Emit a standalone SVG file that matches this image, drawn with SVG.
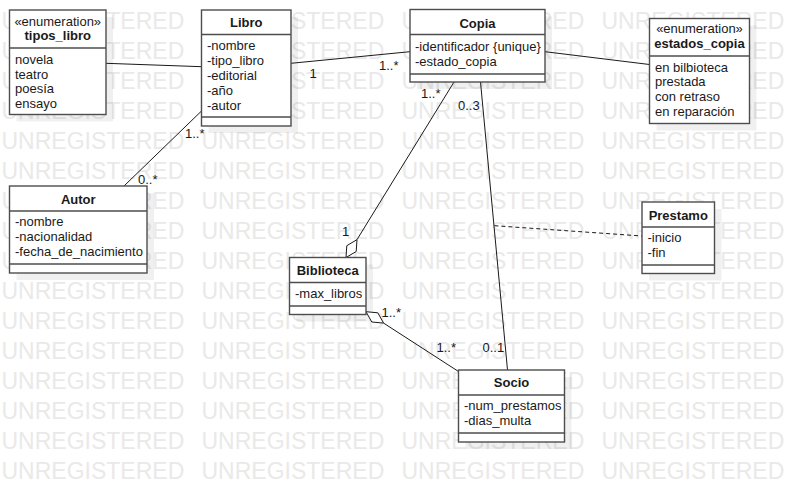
<svg xmlns="http://www.w3.org/2000/svg" width="789" height="482" viewBox="0 0 789 482">
<style>
  .wm { font-family: "Liberation Sans", Arial, sans-serif; font-size: 23px; fill: #e9e9e9; }
  .shadow { fill: #000; fill-opacity: 0.06; }
  .box { fill: #fff; stroke: #4d4d4d; stroke-width: 1.4; }
  .div { stroke: #4d4d4d; stroke-width: 1.4; }
  .t { font-family: "Liberation Sans", Arial, sans-serif; font-size: 13px; fill: #1a1a1a; }
  .name { font-weight: bold; text-anchor: middle; }
  .st { text-anchor: middle; }
  .ln { fill: none; stroke: #1a1a1a; stroke-width: 1; }
  .dash { stroke-dasharray: 4 3; }
  .dia { fill: #fff; stroke: #1a1a1a; stroke-width: 1; }
</style>
<rect width="789" height="482" fill="#fff"/>
<g id="watermark" class="wm">
  <text x="1.5" y="29">UNREGISTERED</text><text x="201.5" y="29">UNREGISTERED</text><text x="401.5" y="29">UNREGISTERED</text><text x="601.5" y="29">UNREGISTERED</text>
  <text x="1.5" y="59">UNREGISTERED</text><text x="201.5" y="59">UNREGISTERED</text><text x="401.5" y="59">UNREGISTERED</text><text x="601.5" y="59">UNREGISTERED</text>
  <text x="1.5" y="89">UNREGISTERED</text><text x="201.5" y="89">UNREGISTERED</text><text x="401.5" y="89">UNREGISTERED</text><text x="601.5" y="89">UNREGISTERED</text>
  <text x="1.5" y="119">UNREGISTERED</text><text x="201.5" y="119">UNREGISTERED</text><text x="401.5" y="119">UNREGISTERED</text><text x="601.5" y="119">UNREGISTERED</text>
  <text x="1.5" y="149">UNREGISTERED</text><text x="201.5" y="149">UNREGISTERED</text><text x="401.5" y="149">UNREGISTERED</text><text x="601.5" y="149">UNREGISTERED</text>
  <text x="1.5" y="179">UNREGISTERED</text><text x="201.5" y="179">UNREGISTERED</text><text x="401.5" y="179">UNREGISTERED</text><text x="601.5" y="179">UNREGISTERED</text>
  <text x="1.5" y="209">UNREGISTERED</text><text x="201.5" y="209">UNREGISTERED</text><text x="401.5" y="209">UNREGISTERED</text><text x="601.5" y="209">UNREGISTERED</text>
  <text x="1.5" y="239">UNREGISTERED</text><text x="201.5" y="239">UNREGISTERED</text><text x="401.5" y="239">UNREGISTERED</text><text x="601.5" y="239">UNREGISTERED</text>
  <text x="1.5" y="269">UNREGISTERED</text><text x="201.5" y="269">UNREGISTERED</text><text x="401.5" y="269">UNREGISTERED</text><text x="601.5" y="269">UNREGISTERED</text>
  <text x="1.5" y="299">UNREGISTERED</text><text x="201.5" y="299">UNREGISTERED</text><text x="401.5" y="299">UNREGISTERED</text><text x="601.5" y="299">UNREGISTERED</text>
  <text x="1.5" y="329">UNREGISTERED</text><text x="201.5" y="329">UNREGISTERED</text><text x="401.5" y="329">UNREGISTERED</text><text x="601.5" y="329">UNREGISTERED</text>
  <text x="1.5" y="359">UNREGISTERED</text><text x="201.5" y="359">UNREGISTERED</text><text x="401.5" y="359">UNREGISTERED</text><text x="601.5" y="359">UNREGISTERED</text>
  <text x="1.5" y="389">UNREGISTERED</text><text x="201.5" y="389">UNREGISTERED</text><text x="401.5" y="389">UNREGISTERED</text><text x="601.5" y="389">UNREGISTERED</text>
  <text x="1.5" y="419">UNREGISTERED</text><text x="201.5" y="419">UNREGISTERED</text><text x="401.5" y="419">UNREGISTERED</text><text x="601.5" y="419">UNREGISTERED</text>
  <text x="1.5" y="449">UNREGISTERED</text><text x="201.5" y="449">UNREGISTERED</text><text x="401.5" y="449">UNREGISTERED</text><text x="601.5" y="449">UNREGISTERED</text>
  <text x="1.5" y="479">UNREGISTERED</text><text x="201.5" y="479">UNREGISTERED</text><text x="401.5" y="479">UNREGISTERED</text><text x="601.5" y="479">UNREGISTERED</text>
</g>
<g id="shadows">
  <rect class="shadow" x="16.5" y="17" width="96.5" height="104.5"/>
  <rect class="shadow" x="208.5" y="17" width="89.5" height="116"/>
  <rect class="shadow" x="417" y="16.5" width="135" height="72.5"/>
  <rect class="shadow" x="656.5" y="25.5" width="100" height="105"/>
  <rect class="shadow" x="16.5" y="193" width="137.5" height="87"/>
  <rect class="shadow" x="296.5" y="264.5" width="76.5" height="57"/>
  <rect class="shadow" x="465.5" y="377" width="106" height="72"/>
  <rect class="shadow" x="649" y="209" width="72.5" height="71.5"/>
</g>
<g id="connectors">
  <line class="ln" x1="106" y1="63.3" x2="201.5" y2="66.7"/>
  <line class="ln" x1="291" y1="63.3" x2="410" y2="51.7"/>
  <line class="ln" x1="545" y1="51.7" x2="649.5" y2="64.5"/>
  <line class="ln" x1="201.5" y1="111" x2="124" y2="186"/>
  <line class="ln" x1="454" y1="82" x2="357" y2="239.6"/>
  <polygon class="dia" points="346,257.5 356.2,251.5 357,239.6 346.8,245.7"/>
  <line class="ln" x1="480.5" y1="82" x2="507.5" y2="370"/>
  <line class="ln dash" x1="494.4" y1="225.7" x2="642" y2="236"/>
  <line class="ln" x1="383.6" y1="323.1" x2="458.5" y2="371.5"/>
  <polygon class="dia" points="366,311.7 377.8,312.8 383.6,323.1 371.8,322"/>
  <g class="t">
    <text x="309.5" y="78">1</text>
    <text x="379" y="70">1..*</text>
    <text x="185" y="138">1..*</text>
    <text x="138" y="184">0..*</text>
    <text x="421" y="98">1..*</text>
    <text x="342" y="236">1</text>
    <text x="458" y="110">0..3</text>
    <text x="482.5" y="352">0..1</text>
    <text x="381.5" y="316.5">1..*</text>
    <text x="436.5" y="352">1..*</text>
  </g>
</g>
<g id="tipos_libro" class="t">
  <rect class="box" x="9.5" y="10" width="96.5" height="104.5"/>
  <line class="div" x1="9.5" y1="48" x2="106" y2="48"/>
  <text class="st" x="57.75" y="26">«enumeration»</text>
  <text class="name" x="57.75" y="39.5">tipos_libro</text>
  <text x="15" y="63.5">novela</text>
  <text x="15" y="78.5">teatro</text>
  <text x="15" y="93.3">poesía</text>
  <text x="15" y="108">ensayo</text>
</g>
<g id="Libro" class="t">
  <rect class="box" x="201.5" y="10" width="89.5" height="116"/>
  <line class="div" x1="201.5" y1="34.5" x2="291" y2="34.5"/>
  <line class="div" x1="201.5" y1="117" x2="291" y2="117"/>
  <text class="name" x="246.25" y="27.4">Libro</text>
  <text x="207" y="50">-nombre</text>
  <text x="207" y="65">-tipo_libro</text>
  <text x="207" y="80">-editorial</text>
  <text x="207" y="95">-año</text>
  <text x="207" y="110">-autor</text>
</g>
<g id="Copia" class="t">
  <rect class="box" x="410" y="9.5" width="135" height="72.5"/>
  <line class="div" x1="410" y1="34.5" x2="545" y2="34.5"/>
  <line class="div" x1="410" y1="74" x2="545" y2="74"/>
  <text class="name" x="477.5" y="27.5">Copia</text>
  <text x="415" y="51">-identificador {unique}</text>
  <text x="415" y="66">-estado_copia</text>
</g>
<g id="estados_copia" class="t">
  <rect class="box" x="649.5" y="18.5" width="100" height="105"/>
  <line class="div" x1="649.5" y1="56" x2="749.5" y2="56"/>
  <text class="st" x="699.5" y="33">«enumeration»</text>
  <text class="name" x="699.5" y="47.5">estados_copia</text>
  <text x="655" y="71.5">en bilbioteca</text>
  <text x="655" y="86.3">prestada</text>
  <text x="655" y="101.1">con retraso</text>
  <text x="655" y="116">en reparación</text>
</g>
<g id="Autor" class="t">
  <rect class="box" x="9.5" y="186" width="137.5" height="87"/>
  <line class="div" x1="9.5" y1="211" x2="147" y2="211"/>
  <line class="div" x1="9.5" y1="264" x2="147" y2="264"/>
  <text class="name" x="78.25" y="203.5">Autor</text>
  <text x="15" y="226">-nombre</text>
  <text x="15" y="241">-nacionalidad</text>
  <text x="15" y="256">-fecha_de_nacimiento</text>
</g>
<g id="Biblioteca" class="t">
  <rect class="box" x="289.5" y="257.5" width="76.5" height="57"/>
  <line class="div" x1="289.5" y1="282.5" x2="366" y2="282.5"/>
  <line class="div" x1="289.5" y1="306" x2="366" y2="306"/>
  <text class="name" x="327.75" y="275.3">Biblioteca</text>
  <text x="295" y="298">-max_libros</text>
</g>
<g id="Socio" class="t">
  <rect class="box" x="458.5" y="370" width="106" height="72"/>
  <line class="div" x1="458.5" y1="395" x2="564.5" y2="395"/>
  <line class="div" x1="458.5" y1="433" x2="564.5" y2="433"/>
  <text class="name" x="511.5" y="387.3">Socio</text>
  <text x="464" y="410">-num_prestamos</text>
  <text x="464" y="425">-dias_multa</text>
</g>
<g id="Prestamo" class="t">
  <rect class="box" x="642" y="202" width="72.5" height="71.5"/>
  <line class="div" x1="642" y1="227" x2="714.5" y2="227"/>
  <line class="div" x1="642" y1="265" x2="714.5" y2="265"/>
  <text class="name" x="678.25" y="219.5">Prestamo</text>
  <text x="647.5" y="241.7">-inicio</text>
  <text x="647.5" y="256.5">-fin</text>
</g>
</svg>
